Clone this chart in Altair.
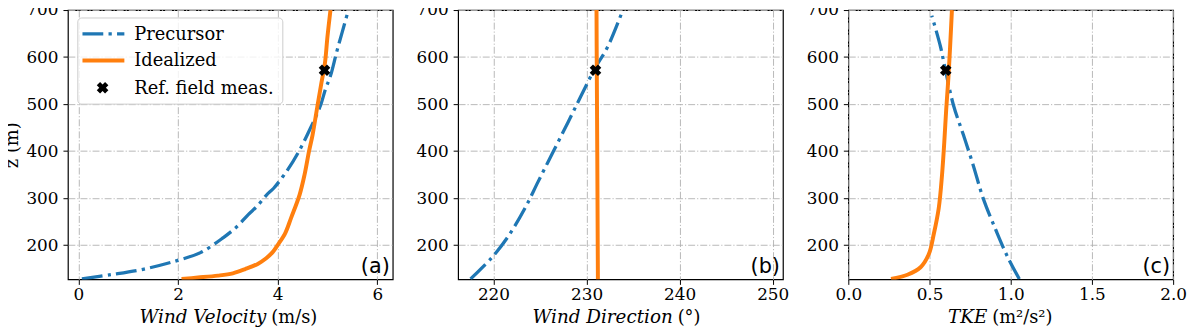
import altair as alt
import pandas as pd

# ---------------- data ----------------
prec_vel_z = [128, 137, 149, 167, 184, 216, 240, 265, 283, 307, 321, 360, 398, 447, 497, 532, 560, 609, 651, 700]
prec_vel = [0.07, 0.65, 1.32, 1.98, 2.45, 2.91, 3.19, 3.41, 3.59, 3.78, 3.92, 4.20, 4.42, 4.65, 4.86, 4.96, 5.06, 5.18, 5.29, 5.42]
ideal_vel_z = [128, 131, 135, 140, 149, 160, 172, 185, 200, 225, 258, 307, 350, 400, 434, 497, 546, 588, 644, 700]
ideal_vel = [2.07, 2.4, 2.8, 3.1, 3.35, 3.6, 3.77, 3.9, 4.0, 4.15, 4.27, 4.44, 4.54, 4.63, 4.70, 4.80, 4.88, 4.95, 5.00, 5.06]

prec_dir_z = [128, 174, 219, 279, 335, 398, 461, 517, 574, 623, 700]
prec_dir = [217.54, 219.85, 221.6, 223.4, 224.8, 226.4, 228.0, 229.4, 230.85, 232.3, 233.9]
ideal_dir_z = [127, 200, 400, 572, 700]
ideal_dir = [231.22, 231.2, 231.15, 231.1, 231.07]

prec_tke_z = [128, 174, 230, 300, 370, 434, 497, 574, 623, 688]
prec_tke = [1.053, 0.982, 0.911, 0.830, 0.769, 0.709, 0.648, 0.597, 0.567, 0.514]
ideal_tke_z = [128, 137, 153, 181, 223, 279, 349, 419, 490, 560, 630, 700]
ideal_tke = [0.263, 0.364, 0.445, 0.496, 0.526, 0.557, 0.577, 0.591, 0.603, 0.617, 0.628, 0.638]

ref_z = 572
ref_vel = 4.94
ref_dir = 230.96
ref_tke = 0.60

legend_labels = ["Precursor", "Idealized", "Ref. field meas."]
panel_letters = ["(a)", "(b)", "(c)"]
x_title_italic = ["Wind Velocity", "Wind Direction", "TKE"]
x_title_plain = ["(m/s)", "(°)", "(m²/s²)"]
y_title = "z (m)"

vel_ticks = [0, 2, 4, 6]
dir_ticks = [220, 230, 240, 250]
tke_ticks = [0.0, 0.5, 1.0, 1.5, 2.0]
z_ticks = [200, 300, 400, 500, 600, 700]

# ---------------- styling ----------------
BLUE = "#1f77b4"
ORANGE = "#ff7f0e"
SERIF = "DejaVu Serif"
W, H = 328, 272
DASHDOT = [21, 5.3, 3.3, 5.3]
TXT = 18


def one(t):
    return pd.DataFrame({"t": [t]})


def panel(px, pz, ix, iz, rx, dom, ticks, fmt, idx, split, ytitle, legend):
    prec = pd.DataFrame({"v": px, "z": pz})
    ideal = pd.DataFrame({"v": ix, "z": iz})
    ref = pd.DataFrame({"v": [rx], "z": [ref_z]})
    xenc = alt.X("v:Q", scale=alt.Scale(domain=dom, nice=False, zero=False),
                 axis=alt.Axis(values=ticks, format=fmt, title=None))
    yenc = alt.Y("z:Q", scale=alt.Scale(domain=[127, 700], nice=False, zero=False),
                 axis=alt.Axis(values=z_ticks, title=ytitle))

    l_prec = alt.Chart(prec).mark_line(color=BLUE, strokeWidth=3.3, strokeDash=DASHDOT,
                                       interpolate="catmull-rom",
                                       clip=True).encode(x=xenc, y=yenc, order="z:Q")
    l_ideal = alt.Chart(ideal).mark_line(color=ORANGE, strokeWidth=4, interpolate="catmull-rom",
                                         clip=True).encode(x=xenc, y=yenc, order="z:Q")
    p_ref = alt.Chart(ref).mark_point(shape="cross", angle=45, filled=True, size=140,
                                      color="black", opacity=1).encode(x="v:Q", y="z:Q")
    letter = alt.Chart(one(panel_letters[idx])).mark_text(
        font="DejaVu Sans", fontSize=21, align="right", baseline="alphabetic", color="black"
    ).encode(x=alt.value(W - 3), y=alt.value(H - 6), text="t:N")
    t_it = alt.Chart(one(x_title_italic[idx])).mark_text(
        font=SERIF, fontSize=18.5, fontStyle="italic", align="right", baseline="alphabetic", color="black"
    ).encode(x=alt.value(split), y=alt.value(H + 44), text="t:N")
    t_rm = alt.Chart(one(x_title_plain[idx])).mark_text(
        font=SERIF, fontSize=TXT, align="left", baseline="alphabetic", color="black"
    ).encode(x=alt.value(split + 5), y=alt.value(H + 44), text="t:N")

    layers = [l_prec, l_ideal, p_ref, letter, t_it, t_rm]

    if legend:
        box = alt.Chart(one("box")).mark_rect(
            fill="white", fillOpacity=0.8, stroke="#cccccc", strokeWidth=1, cornerRadius=4
        ).encode(x=alt.value(10), x2=alt.value(217), y=alt.value(8), y2=alt.value(95))
        s1 = alt.Chart(one("s1")).mark_rule(color=BLUE, strokeWidth=3.3, strokeDash=DASHDOT).encode(
            x=alt.value(14.7), x2=alt.value(57), y=alt.value(24))
        s2 = alt.Chart(one("s2")).mark_rule(color=ORANGE, strokeWidth=4).encode(
            x=alt.value(14.7), x2=alt.value(57), y=alt.value(51))
        s3 = alt.Chart(one("s3")).mark_point(shape="cross", angle=45, filled=True, size=140,
                                             color="black", opacity=1).encode(
            x=alt.value(35), y=alt.value(78.5))
        texts = []
        for lab, yb in zip(legend_labels, [30, 57, 84.5]):
            texts.append(alt.Chart(one(lab)).mark_text(
                font=SERIF, fontSize=TXT, align="left", baseline="alphabetic", color="black"
            ).encode(x=alt.value(67), y=alt.value(yb), text="t:N"))
        layers += [box, s1, s2, s3] + texts

    return alt.layer(*layers).properties(width=W, height=H)


pa = panel(prec_vel, prec_vel_z, ideal_vel, ideal_vel_z, ref_vel, [-0.21, 6.31], vel_ticks, "d",
           0, 200.4, y_title, True)
pb = panel(prec_dir, prec_dir_z, ideal_dir, ideal_dir_z, ref_dir, [216.2, 251.1], dir_ticks, "d",
           1, 216.7, None, False)
pc = panel(prec_tke, prec_tke_z, ideal_tke, ideal_tke_z, ref_tke, [0, 2], tke_ticks, ".1f",
           2, 140.3, None, False)

chart = alt.hconcat(pa, pb, pc, spacing=66, bounds="flush").properties(
    padding={"left": -5.5, "top": -9.5, "right": -1, "bottom": 0}
).configure_view(
    stroke="black", strokeWidth=1.2
).configure_axis(
    domain=False, grid=True, gridColor="#b0b0b0", gridDash=[7, 2, 1.2, 2], gridWidth=0.9,
    ticks=True, tickColor="black", tickSize=5, tickWidth=1,
    labelFont=SERIF, labelFontSize=17, labelColor="black",
    titleFont=SERIF, titleFontSize=TXT, titleFontWeight="normal", titleColor="black"
).configure_axisX(
    labelPadding=2, labelFlush=False
).configure_axisY(
    labelPadding=5, titlePadding=4
)

chart.save("out.html", embed_options={"renderer": "svg", "actions": False})
